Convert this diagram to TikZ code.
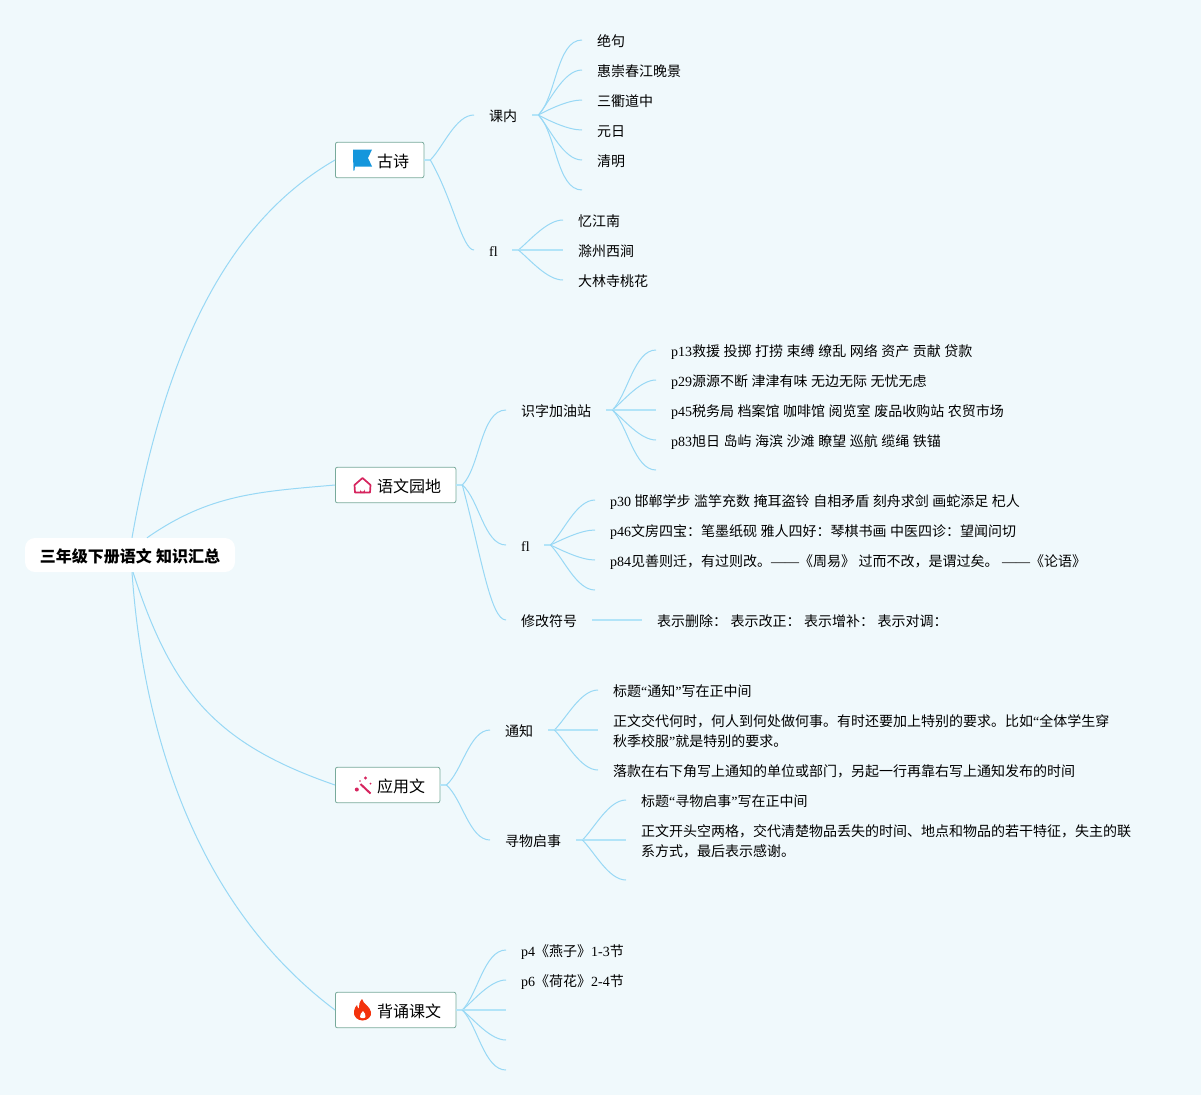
\documentclass[tikz,border=0pt]{standalone}
\usepackage{fontspec}
\setmainfont[WordSpace=1.12]{Noto Sans CJK SC}
\newfontfamily\latfont{Liberation Serif}
\newcommand{\lat}[1]{{\latfont #1}}
\usetikzlibrary{positioning,calc}
\definecolor{bgblue}{RGB}{240,249,252}
\definecolor{linkblue}{RGB}{152,216,245}
\definecolor{midblue}{RGB}{178,228,248}
\definecolor{boxgreen}{RGB}{120,170,155}
\definecolor{flagblue}{RGB}{20,150,220}
\definecolor{iconred}{RGB}{214,36,94}
\definecolor{flamered}{RGB}{243,50,12}
\tikzset{
	link/.style={draw=linkblue, line width=1pt},
	fan/.style={link, looseness=.75},
	midlink/.style={draw=midblue, line width=1.6pt},
	stub/.style={draw=midblue, line width=2.4pt},
	topic/.style={draw=boxgreen, line width=0.8pt, fill=white, rounded corners=2pt, minimum height=35.5pt, inner sep=0pt, anchor=west},
	topictext/.style={anchor=west, inner sep=0pt, font=\fontsize{16}{20}\selectfont},
	item/.style={inner xsep=15pt, inner ysep=0pt, anchor=west, text height=14.2pt, text depth=0.4pt},
	para/.style={inner xsep=15pt, inner ysep=0pt, anchor=west, align=left},
}
\newcommand{\leaf}[4]{
	\node[item] (leaf_#1) at (#2,#3) {#4};
}
\newcommand{\hub}[1]{
	\coordinate (#1_hub) at ([xshift=6pt]#1.east);
	\draw[stub] (#1.east) -- (#1_hub);
}
\begin{document}
\begin{tikzpicture}[x=1pt,y=-1pt,font=\fontsize{14}{20}\selectfont]
		\fill[bgblue] (0,0) rectangle (1201,1095);
		\useasboundingbox (0,0) rectangle (1201,1095);

		\node[fill=white, rounded corners=10pt, minimum width=210pt, minimum height=34pt, inner sep=0pt, text height=14.5pt, text depth=0.5pt, font=\fontsize{16}{20}\selectfont\bfseries] (root) at (130,555) {三年级下册语文 知识汇总};

		\node[topic, minimum width=88.5pt] (gushi) at (335,160) {};
		\node[topic, minimum width=120.5pt] (yuandi) at (335,485) {};
		\node[topic, minimum width=104.5pt] (yingyong) at (335,785) {};
		\node[topic, minimum width=120.5pt] (beisong) at (335,1010) {};
		\node[topictext] (gushi_t) at (377,161) {古诗};
		\node[topictext] (yuandi_t) at (377,486) {语文园地};
		\node[topictext] (yingyong_t) at (377,786) {应用文};
		\node[topictext] (beisong_t) at (377,1011) {背诵课文};

		% icons
		\fill[flagblue] (353,149.5) -- (372,149.5) -- (368,158) -- (372,166.5) -- (355,166.5) -- (354.4,170.5) -- (353.4,170.5) -- cycle;
		\draw[iconred, line width=1.7pt, line join=round] (354.5,485) -- (362.5,478) -- (370.5,485) -- (370,492.5) -- (355,492.5) -- cycle;
		\fill[iconred] (360,493) -- (360,489.5) arc (180:0:2.4) -- (364.8,493) -- cycle;
		\draw[iconred, line width=2pt] (360.5,784) -- (370.5,793.5);
		\fill[iconred] (365.5,778) circle (1.6);
		\fill[iconred] (356.8,789.5) circle (2);
		\fill[iconred] (370.5,783.5) circle (1);
		\fill[iconred] (360,781) circle (0.8);
		\fill[flamered] (362,999) .. controls (363,1004) and (370,1006) .. (371,1012) .. controls (372,1017) and (367,1020.5) .. (362.5,1020.5) .. controls (358,1020.5) and (353,1017) .. (354,1011) .. controls (354.5,1008) and (356,1006) .. (357,1005) .. controls (357,1007) and (358,1008) .. (359,1008.5) .. controls (358.5,1005) and (359.5,1002) .. (362,999) -- cycle;
		\fill[white] (363,1011) .. controls (364,1013) and (366.5,1014.5) .. (365.5,1017) .. controls (364.8,1018.6) and (360.7,1018.6) .. (360,1017) .. controls (359,1014.5) and (362,1013) .. (363,1011) -- cycle;

		% branches
		\node[item] (kenei) at (474,115) {课内};
		\node[item, text width=8pt] (fl_a) at (474,250) {\lat{fl}};
		\node[item] (shizi) at (506,410) {识字加油站};
		\node[item, text width=8pt] (fl_b) at (506,545) {\lat{fl}};
		\node[item] (xiugai) at (506,620) {修改符号};
		\node[item] (tongzhi) at (490,730) {通知};
		\node[item] (xunwu) at (490,840) {寻物启事};

		% leaves
		\leaf{a1}{582}{40}{绝句};
		\leaf{a2}{582}{70}{惠崇春江晚景};
		\leaf{a3}{582}{100}{三衢道中};
		\leaf{a4}{582}{130}{元日};
		\leaf{a5}{582}{160}{清明};
		\coordinate (leaf_a6) at (582,190);

		\leaf{b1}{563}{220}{忆江南};
		\leaf{b2}{563}{250}{滁州西涧};
		\leaf{b3}{563}{280}{大林寺桃花};

		\leaf{c1}{656}{350}{\lat{p13}救援 投掷 打捞 束缚 缭乱 网络 资产 贡献 贷款};
		\leaf{c2}{656}{380}{\lat{p29}源源不断 津津有味 无边无际 无忧无虑};
		\leaf{c3}{656}{410}{\lat{p45}税务局 档案馆 咖啡馆 阅览室 废品收购站 农贸市场};
		\leaf{c4}{656}{440}{\lat{p83}旭日 岛屿 海滨 沙滩 瞭望 巡航 缆绳 铁锚};
		\coordinate (leaf_c5) at (656,470);

		\leaf{d1}{595}{500}{\lat{p30} 邯郸学步 滥竽充数 掩耳盗铃 自相矛盾 刻舟求剑 画蛇添足 杞人};
		\leaf{d2}{595}{530}{\lat{p46}文房四宝：笔墨纸砚 雅人四好：琴棋书画 中医四诊：望闻问切};
		\leaf{d3}{595}{560}{\lat{p84}见善则迁，有过则改。\lat{——}《周易》 过而不改，是谓过矣。 \lat{——}《论语》};
		\coordinate (leaf_d4) at (595,590);

		\leaf{e1}{642}{620}{表示删除： 表示改正： 表示增补： 表示对调：};

		\leaf{f1}{598}{690}{标题\lat{“}通知\lat{”}写在正中间};
		\node[para] (leaf_f2) at (598,731) {正文交代何时，何人到何处做何事。有时还要加上特别的要求。比如\lat{“}全体学生穿\\秋季校服\lat{”}就是特别的要求。};
		\leaf{f3}{598}{770}{落款在右下角写上通知的单位或部门，另起一行再靠右写上通知发布的时间};

		\leaf{g1}{626}{800}{标题\lat{“}寻物启事\lat{”}写在正中间};
		\node[para] (leaf_g2) at (626,841) {正文开头空两格，交代清楚物品丢失的时间、地点和物品的若干特征，失主的联\\系方式，最后表示感谢。};
		\coordinate (leaf_g3) at (626,880);

		\leaf{h1}{506}{950}{\lat{p4}《燕子》\lat{1-3}节};
		\leaf{h2}{506}{980}{\lat{p6}《荷花》\lat{2-4}节};
		\coordinate (leaf_h3) at (506,1010);
		\coordinate (leaf_h4) at (506,1040);
		\coordinate (leaf_h5) at (506,1070);

		% root links
		\draw[link] ([xshift=2pt]root.north) to[out=80,in=210,out looseness=1.19,in looseness=.71] (gushi.west);
		\draw[link] ([xshift=17pt]root.north) to[out=35,in=185] (yuandi.west);
		\draw[link] ([xshift=3pt]root.south) to[out=-72,in=161,looseness=1.1] (yingyong.west);
		\draw[link] ([xshift=2pt]root.south) to[out=-86,in=143,looseness=.9] (beisong.west);

		% hubs
		\hub{gushi}; \hub{yuandi}; \hub{yingyong}; \hub{beisong};
		\hub{kenei}; \hub{fl_a}; \hub{shizi}; \hub{fl_b}; \hub{tongzhi}; \hub{xunwu};

		% topic links
		\draw[fan] (gushi_hub) to[out=45,in=180] (kenei.west);
		\draw[link] (gushi_hub) to[out=-60,in=180,out looseness=1.15,in looseness=.3] (fl_a.west);
		\draw[fan] (yuandi_hub) to[out=45,in=180] (shizi.west);
		\draw[fan] (yuandi_hub) to[out=-40,in=180] (fl_b.west);
		\draw[link] (yuandi_hub) to[out=-75,in=180,out looseness=1.3,in looseness=.28] (xiugai.west);
		\draw[fan] (yingyong_hub) to[out=40,in=180] (tongzhi.west);
		\draw[fan] (yingyong_hub) to[out=-40,in=180] (xunwu.west);

		% fans
		\draw[fan] (kenei_hub) to[out=45,in=180] (leaf_a1.west);
		\draw[fan] (kenei_hub) to[out=50,in=180] (leaf_a2.west);
		\draw[fan] (kenei_hub) to[out=28,in=180] (leaf_a3.west);
		\draw[fan] (kenei_hub) to[out=-28,in=180] (leaf_a4.west);
		\draw[fan] (kenei_hub) to[out=-50,in=180] (leaf_a5.west);
		\draw[fan] (kenei_hub) to[out=-45,in=180] (leaf_a6);

		\draw[fan] (fl_a_hub) to[out=40,in=180] (leaf_b1.west);
		\draw[midlink] (fl_a_hub) -- (leaf_b2.west);
		\draw[fan] (fl_a_hub) to[out=-40,in=180] (leaf_b3.west);

		\draw[fan] (shizi_hub) to[out=45,in=180] (leaf_c1.west);
		\draw[fan] (shizi_hub) to[out=40,in=180] (leaf_c2.west);
		\draw[midlink] (shizi_hub) -- (leaf_c3.west);
		\draw[fan] (shizi_hub) to[out=-40,in=180] (leaf_c4.west);
		\draw[fan] (shizi_hub) to[out=-45,in=180] (leaf_c5);

		\draw[fan] (fl_b_hub) to[out=45,in=180] (leaf_d1.west);
		\draw[fan] (fl_b_hub) to[out=25,in=180] (leaf_d2.west);
		\draw[fan] (fl_b_hub) to[out=-25,in=180] (leaf_d3.west);
		\draw[fan] (fl_b_hub) to[out=-45,in=180] (leaf_d4);

		\draw[midlink] (xiugai.east) -- (leaf_e1.west);

		\draw[fan] (tongzhi_hub) to[out=45,in=180] (leaf_f1.west);
		\draw[midlink] (tongzhi_hub) -- (tongzhi_hub -| leaf_f2.west);
		\draw[fan] (tongzhi_hub) to[out=-45,in=180] (leaf_f3.west);

		\draw[fan] (xunwu_hub) to[out=45,in=180] (leaf_g1.west);
		\draw[midlink] (xunwu_hub) -- (xunwu_hub -| leaf_g2.west);
		\draw[fan] (xunwu_hub) to[out=-45,in=180] (leaf_g3);

		\draw[fan] (beisong_hub) to[out=45,in=180] (leaf_h1.west);
		\draw[fan] (beisong_hub) to[out=40,in=180] (leaf_h2.west);
		\draw[midlink] (beisong_hub) -- (leaf_h3);
		\draw[fan] (beisong_hub) to[out=-40,in=180] (leaf_h4);
		\draw[fan] (beisong_hub) to[out=-45,in=180] (leaf_h5);
	\end{tikzpicture}
\end{document}
